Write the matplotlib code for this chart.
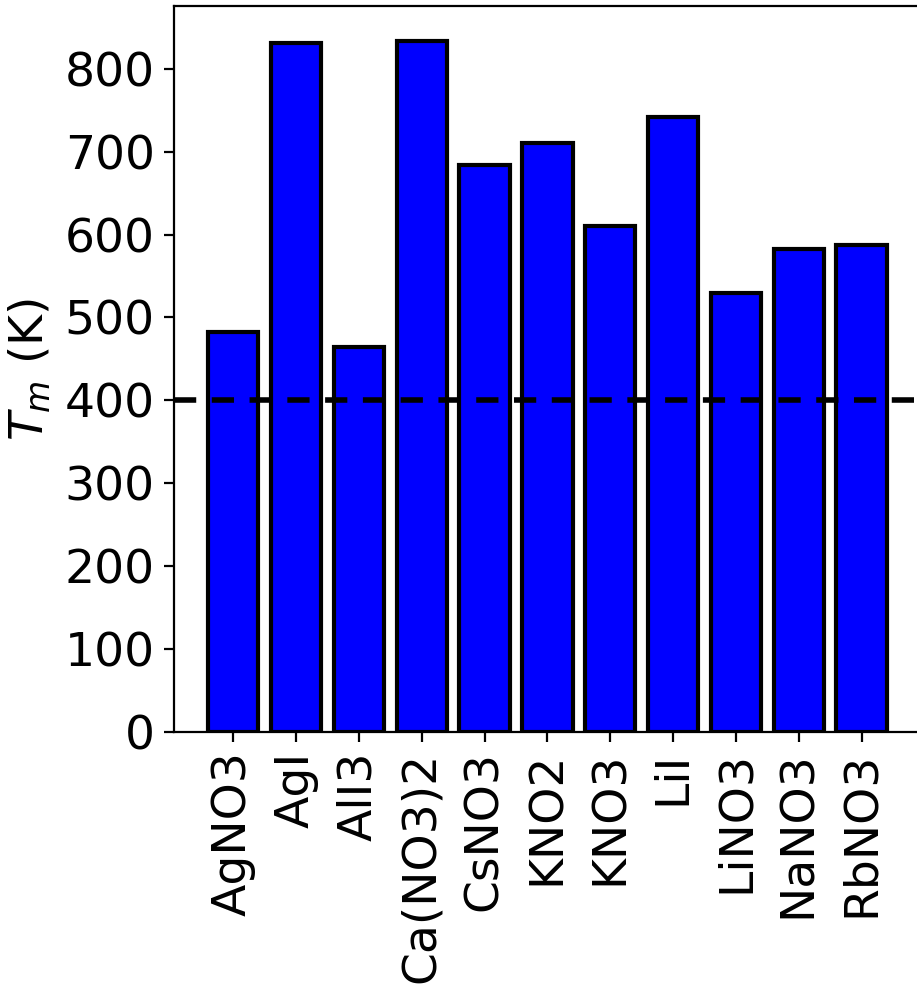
import matplotlib
matplotlib.use('Agg')
import matplotlib.pyplot as plt

# melting temperatures of candidate salts
salts = ['AgNO3', 'AgI', 'AlI3', 'Ca(NO3)2', 'CsNO3', 'KNO2', 'KNO3',
         'LiI', 'LiNO3', 'NaNO3', 'RbNO3']
tm = [483, 831, 465, 834, 684, 711, 610, 742, 529, 583, 587]
yticks = [0, 100, 200, 300, 400, 500, 600, 700, 800]
t_cut = 400

plt.rcParams['font.size'] = 17

fig = plt.figure(figsize=(4.585, 4.95), dpi=200)
ax = fig.add_axes([0.19, 0.2606, 0.814, 0.7333])

ax.bar(salts, tm, color='blue', edgecolor='black', linewidth=1.5)
ax.axhline(t_cut, color='black', linewidth=2, linestyle=(0, (4, 2.8)))

ax.set_yticks(yticks)
ax.set_ylabel('$T_m$ (K)')
ax.tick_params(axis='x', rotation=90)

fig.savefig('out.png', dpi=200)
